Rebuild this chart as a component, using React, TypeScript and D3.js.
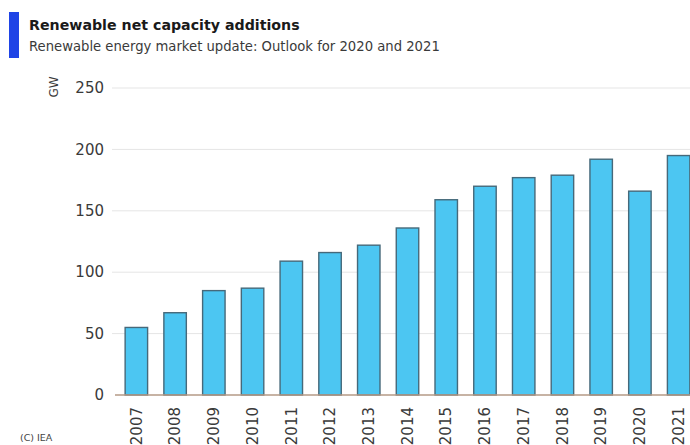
import React from "react";
import * as d3 from "d3";

const years = ["2007","2008","2009","2010","2011","2012","2013","2014","2015","2016","2017","2018","2019","2020","2021"];
const additions = [55, 67, 85, 87, 109, 116, 122, 136, 159, 170, 177, 179, 192, 166, 195];
const yTicks = [0, 50, 100, 150, 200, 250];

const W = 690, H = 445;
const FONT = "'DejaVu Sans', sans-serif";

export default function App() {
  const x = d3.scaleBand<string>().domain(years).range([117, 698]).paddingInner(0.42).paddingOuter(0.21);
  const y = d3.scaleLinear().domain([0, 250]).range([395, 88]);

  return (
    <div style={{ position: "fixed", left: 0, top: 0 }}>
      <svg width={W} height={H} style={{ display: "block", background: "#fff" }}>
        <rect x={9} y={12} width={10} height={46} fill="#1f44e6" />
        <text x={29} y={30} fontFamily={FONT} fontWeight="bold" fontSize={14.2} fill="#1a1a1a">
          Renewable net capacity additions
        </text>
        <text x={29} y={51} fontFamily={FONT} fontSize={13.2} fill="#3a3a3a">
          Renewable energy market update: Outlook for 2020 and 2021
        </text>

        {yTicks.filter(t => t > 0).map(t => (
          <line key={"g" + t} x1={112} x2={W} y1={y(t)} y2={y(t)} stroke="#e5e5e5" strokeWidth={1} />
        ))}
        {yTicks.map(t => (
          <text key={"t" + t} x={104} y={y(t)} dy="0.35em" textAnchor="end" fontFamily={FONT} fontSize={15} fill="#3a3a3a">
            {t}
          </text>
        ))}
        <text transform={`translate(58,87) rotate(-90)`} textAnchor="middle" fontFamily={FONT} fontSize={12} fill="#3a3a3a">
          GW
        </text>

        {years.map((yr, i) => (
          <rect key={yr} x={x(yr)} y={y(additions[i])} width={x.bandwidth()} height={y(0) - y(additions[i])}
            fill="#4cc6f2" stroke="#46697a" strokeWidth={1.4} />
        ))}
        <line x1={115} x2={W} y1={y(0)} y2={y(0)} stroke="#b49a86" strokeWidth={1.5} />

        {years.map(yr => (
          <text key={"l" + yr} transform={`translate(${(x(yr) as number) + x.bandwidth() / 2},407) rotate(-90)`}
            textAnchor="end" dy="0.35em" fontFamily={FONT} fontSize={15} fill="#3a3a3a">
            {yr}
          </text>
        ))}

        <text x={20} y={441} fontFamily={FONT} fontSize={9.5} fill="#444">(C) IEA</text>
      </svg>
    </div>
  );
}
